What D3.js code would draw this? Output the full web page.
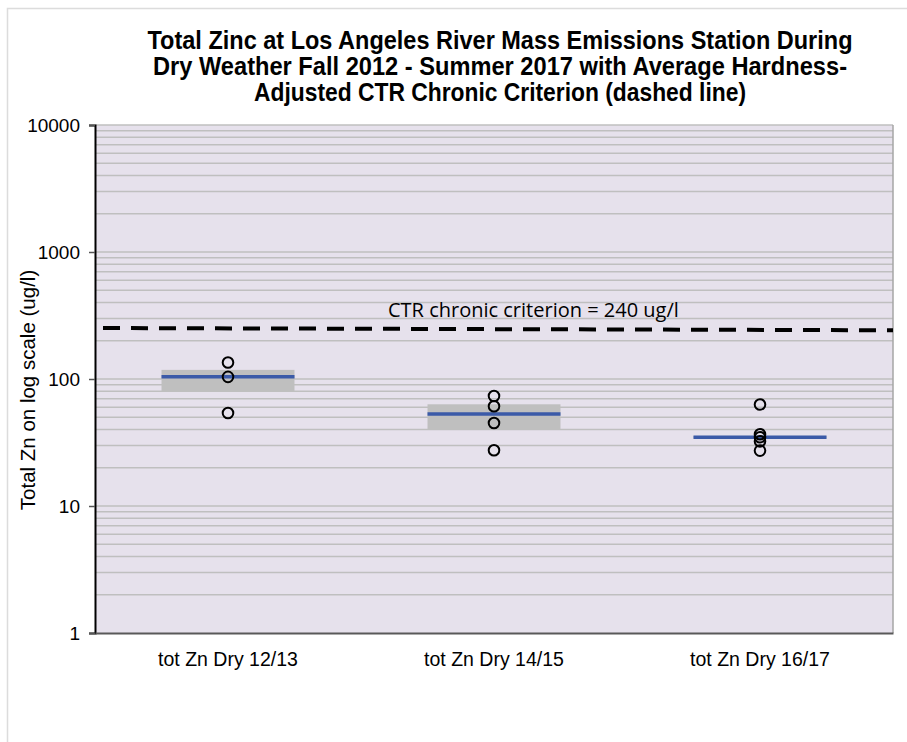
<!DOCTYPE html>
<html>
<head>
<meta charset="utf-8">
<script src="https://cdn.jsdelivr.net/npm/d3@7"></script>
<style>
  body { margin: 0; background: #fff; }
  svg { display: block; }
</style>
</head>
<body>
<div id="chart"></div>
<script>
// data
var categories = ["tot Zn Dry 12/13", "tot Zn Dry 14/15", "tot Zn Dry 16/17"];
var samples = [
  [135, 104, 54],
  [73.5, 61, 45, 27.5],
  [63, 36.7, 34.8, 32.3, 27.3]
];
var medians = [104, 53, 34.8];
var boxLow = [79.5, 40.2, 34];
var boxHigh = [118, 63.2, 35.6];
var criterion = [252, 242];   // dashed line, left end / right end
var yTicks = [1, 10, 100, 1000, 10000];
var titleLines = [
  "Total Zinc at Los Angeles River Mass Emissions Station During",
  "Dry  Weather Fall 2012 - Summer  2017 with Average Hardness-",
  "Adjusted CTR Chronic Criterion (dashed line)"
];
var titleWidths = [705, 694, 492];

var width = 907, height = 742;
var margin = {top: 125, right: 14, bottom: 109, left: 95};

var svg = d3.select("#chart").append("svg")
  .attr("width", width)
  .attr("height", height);

// outer chart border
svg.append("rect")
  .attr("x", 7.5).attr("y", 8.5)
  .attr("width", 940).attr("height", 780)
  .attr("fill", "none")
  .attr("stroke", "#dcdcdc")
  .attr("stroke-width", 1.5);

var x = d3.scaleBand()
  .domain(categories)
  .range([margin.left, width - margin.right]);

var y = d3.scaleLog()
  .domain([1, 10000])
  .range([height - margin.bottom, margin.top]);

// plot background
svg.append("rect")
  .attr("x", margin.left).attr("y", margin.top)
  .attr("width", width - margin.left - margin.right)
  .attr("height", height - margin.top - margin.bottom)
  .attr("fill", "#e6e1ec");

// grid lines (major + minor)
var gridVals = y.ticks().filter(function(d) { return d > 1 && d < 10000; }).concat([10000]);
svg.append("g")
  .selectAll("line")
  .data(gridVals)
  .enter().append("line")
  .attr("x1", margin.left)
  .attr("x2", width - margin.right)
  .attr("y1", function(d) { return y(d); })
  .attr("y2", function(d) { return y(d); })
  .attr("stroke", "#bfbfbf")
  .attr("stroke-width", 1.5);

// right edge of plot
svg.append("line")
  .attr("x1", width - margin.right).attr("x2", width - margin.right)
  .attr("y1", margin.top).attr("y2", height - margin.bottom)
  .attr("stroke", "#a6a6a6")
  .attr("stroke-width", 1.5);

// y axis
var yAxis = svg.append("g")
  .attr("transform", "translate(" + margin.left + ",0)")
  .call(d3.axisLeft(y).tickValues(yTicks).tickFormat(d3.format("d")).tickSize(6).tickPadding(9));
yAxis.select(".domain").attr("stroke", "#000").attr("stroke-width", 2);
yAxis.selectAll(".tick line").attr("stroke", "#555").attr("stroke-width", 1.5);
yAxis.selectAll(".tick text")
  .attr("font-family", "Liberation Sans, Arial, sans-serif")
  .attr("font-size", 19)
  .attr("fill", "#000");

// x axis
var xAxis = svg.append("g")
  .attr("transform", "translate(0," + (height - margin.bottom) + ")")
  .call(d3.axisBottom(x).tickSize(0).tickPadding(19));
xAxis.select(".domain").attr("stroke", "#595959").attr("stroke-width", 2);
xAxis.selectAll(".tick text")
  .attr("font-family", "Liberation Sans, Arial, sans-serif")
  .attr("font-size", 19.5)
  .attr("fill", "#000");

// y label
svg.append("text")
  .attr("transform", "translate(35,390) rotate(-90)")
  .attr("text-anchor", "middle")
  .attr("font-family", "Liberation Sans, Arial, sans-serif")
  .attr("font-size", 20.5)
  .text("Total Zn on log scale (ug/l)");

// interquartile boxes
var boxW = x.bandwidth() / 2;
svg.append("g")
  .selectAll("rect")
  .data(categories)
  .enter().append("rect")
  .attr("x", function(d) { return x(d) + x.bandwidth() / 2 - boxW / 2; })
  .attr("width", boxW)
  .attr("y", function(d, i) { return y(boxHigh[i]); })
  .attr("height", function(d, i) { return y(boxLow[i]) - y(boxHigh[i]); })
  .attr("fill", "#bfbfbf");

// medians
svg.append("g")
  .selectAll("line")
  .data(categories)
  .enter().append("line")
  .attr("x1", function(d) { return x(d) + x.bandwidth() / 2 - boxW / 2; })
  .attr("x2", function(d) { return x(d) + x.bandwidth() / 2 + boxW / 2; })
  .attr("y1", function(d, i) { return y(medians[i]); })
  .attr("y2", function(d, i) { return y(medians[i]); })
  .attr("stroke", "#3b5aa8")
  .attr("stroke-width", 3.5);

// sample points
var pts = [];
samples.forEach(function(arr, i) {
  arr.forEach(function(v) { pts.push({cat: categories[i], val: v}); });
});
svg.append("g")
  .selectAll("circle")
  .data(pts)
  .enter().append("circle")
  .attr("cx", function(d) { return x(d.cat) + x.bandwidth() / 2; })
  .attr("cy", function(d) { return y(d.val); })
  .attr("r", 5.3)
  .attr("fill", "none")
  .attr("stroke", "#000")
  .attr("stroke-width", 2);

// criterion line
svg.append("line")
  .attr("x1", margin.left + 8)
  .attr("x2", width - margin.right)
  .attr("y1", y(criterion[0]))
  .attr("y2", y(criterion[1]))
  .attr("stroke", "#000")
  .attr("stroke-width", 4)
  .attr("stroke-dasharray", "17,11");

svg.append("text")
  .attr("x", 388)
  .attr("y", 317)
  .attr("font-family", "Open Sans, sans-serif")
  .attr("font-size", 20)
  .attr("fill", "#000")
  .text("CTR chronic criterion = 240 ug/l");

// title (narrow bold face, squeezed to the widths seen in the picture)
svg.append("g")
  .selectAll("text")
  .data(titleLines)
  .enter().append("text")
  .attr("x", 500)
  .attr("y", function(d, i) { return 49 + i * 26; })
  .attr("text-anchor", "middle")
  .attr("font-family", "Liberation Sans, Arial, sans-serif")
  .attr("font-weight", "bold")
  .attr("font-size", 25)
  .attr("textLength", function(d, i) { return titleWidths[i]; })
  .attr("lengthAdjust", "spacingAndGlyphs")
  .attr("fill", "#000")
  .text(function(d) { return d; });
</script>
</body>
</html>
